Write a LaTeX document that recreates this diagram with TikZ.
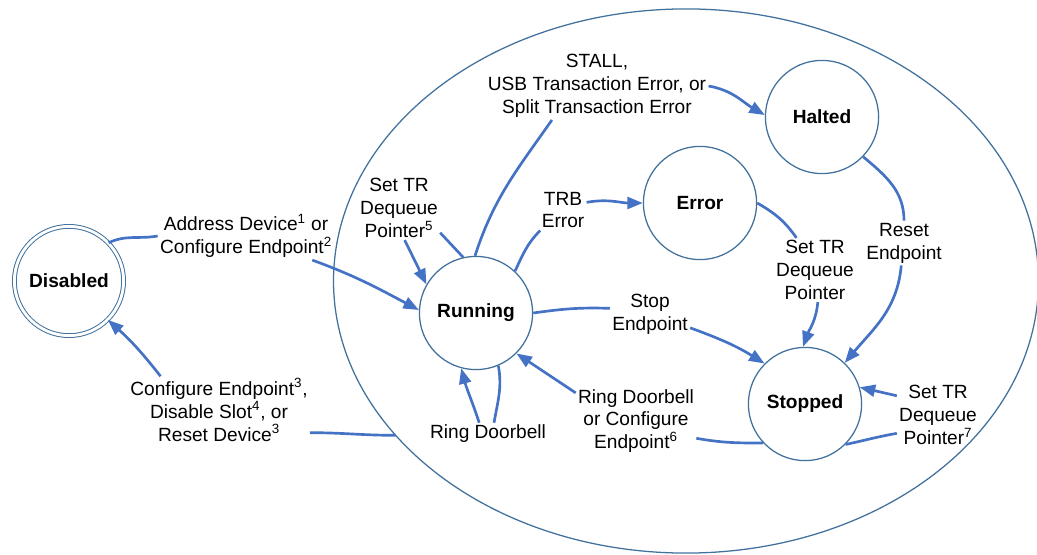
\documentclass[tikz,border=0pt]{standalone}
\usepackage{fontspec}
\setmainfont{Liberation Sans}
\usepackage{xcolor}
\usepackage{tikz}
\usetikzlibrary{shapes.geometric,arrows.meta,positioning}
\definecolor{stateblue}{HTML}{41719C}
\definecolor{linkblue}{HTML}{4472C4}
\newcommand{\diagfont}{\fontsize{13.6}{16.3}\selectfont}
\tikzset{
  state/.style={circle, draw=stateblue, line width=0.9pt, minimum size=2.83cm, inner sep=0pt, font=\diagfont\bfseries},
  lbl/.style={align=center, inner sep=1.5pt, font=\diagfont},
  link/.style={draw=linkblue, line width=1.9pt},
  arr/.style={link, -{Triangle[length=11pt,width=8.5pt]}}
}

\begin{document}
\begin{tikzpicture}[x=0.025cm, y=0.025cm]
    \useasboundingbox (0,0) rectangle (1037,554);

    % Enclosing ellipse
    \node[ellipse, draw=stateblue, line width=0.9pt, minimum width=17.62cm, minimum height=13.6cm, outer sep=0pt] (ep) at (686,273) {};

    % States
    \node[state, double=white, double distance=2pt, line width=0.7pt, minimum size=2.73cm] (dis) at (69,273) {Disabled};
    \node[state] (run) at (476,241) {Running};
    \node[state] (err) at (700,351) {Error};
    \node[state] (halt) at (822,437) {Halted};
    \node[state] (stop) at (805,150) {Stopped};

    % Labels
    \node[lbl] (lblAddr) at (246,318) {Address Device\textsuperscript{1} or\\Configure Endpoint\textsuperscript{2}};
    \node[lbl] (lblCfg) at (219,144) {Configure Endpoint\textsuperscript{3},\\Disable Slot\textsuperscript{4}, or\\Reset Device\textsuperscript{3}};
    \node[lbl] (lblSet5) at (399,346) {Set TR\\Dequeue\\Pointer\textsuperscript{5}};
    \node[lbl] (lblStall) at (597,468) {STALL,\\USB Transaction Error, or\\Split Transaction Error};
    \node[lbl] (lblTrb) at (563,344) {TRB\\Error};
    \node[lbl] (lblSetErr) at (815,284) {Set TR\\Dequeue\\Pointer};
    \node[lbl] (lblReset) at (904,311) {Reset\\Endpoint};
    \node[lbl] (lblStopEp) at (650,240) {Stop\\Endpoint};
    \node[lbl] (lblRing) at (488,120) {Ring Doorbell};
    \node[lbl] (lblRingCfg) at (636,133) {Ring Doorbell\\or Configure\\Endpoint\textsuperscript{6}};
    \node[lbl] (lblSet7) at (938,139) {Set TR\\Dequeue\\Pointer\textsuperscript{7}};

    % Disabled <-> Running
    \draw[link] (dis.44) to[out=25,in=190] (lblAddr.west);
    \draw[arr] (lblAddr.-20) to[out=-20,in=152] (run.177);
    \draw[link] (ep.208) to[out=180,in=0] (lblCfg.-14);
    \draw[arr] (lblCfg.150) to[out=128,in=-42] (dis.-45);

    % Running
    \draw[link] (run.103) -- (lblSet5.-31);
    \draw[arr] (lblSet5.-80) -- (run.150);
    \draw[link] (run.91) to[out=72,in=235] (lblStall.217);
    \draw[arr] (lblStall.east) to[out=-10,in=150] (halt.178);
    \draw[link] (run.47) to[out=65,in=-135] (lblTrb.222);
    \draw[arr] (lblTrb.18) to[out=10,in=180] (err.west);
    \draw[link] (run.east) to[out=8,in=178] (lblStopEp.172);
    \draw[arr] (lblStopEp.-19) to[out=-20,in=148] (stop.135);
    \draw[link] (run.-67) to[out=-80,in=80] (lblRing.62);
    \draw[arr] (lblRing.128) to[out=108,in=-75] (run.-105);

    % Error and Halted
    \draw[link] (err.east) to[out=-30,in=125] (lblSetErr.120);
    \draw[arr] (lblSetErr.-85) to[out=-95,in=70] (stop.92);
    \draw[link] (halt.-44) to[out=-40,in=90] (lblReset.north);
    \draw[arr] (lblReset.-97) to[out=-95,in=50] (stop.46);

    % Stopped
    \draw[link] (stop.-137) to[out=180,in=-10] (lblRingCfg.-16);
    \draw[arr] (lblRingCfg.155) -- (run.-45);
    \draw[link] (stop.-45) to[out=12,in=190] (lblSet7.204);
    \draw[arr] (lblSet7.155) -- (stop.17);
\end{tikzpicture}
\end{document}
